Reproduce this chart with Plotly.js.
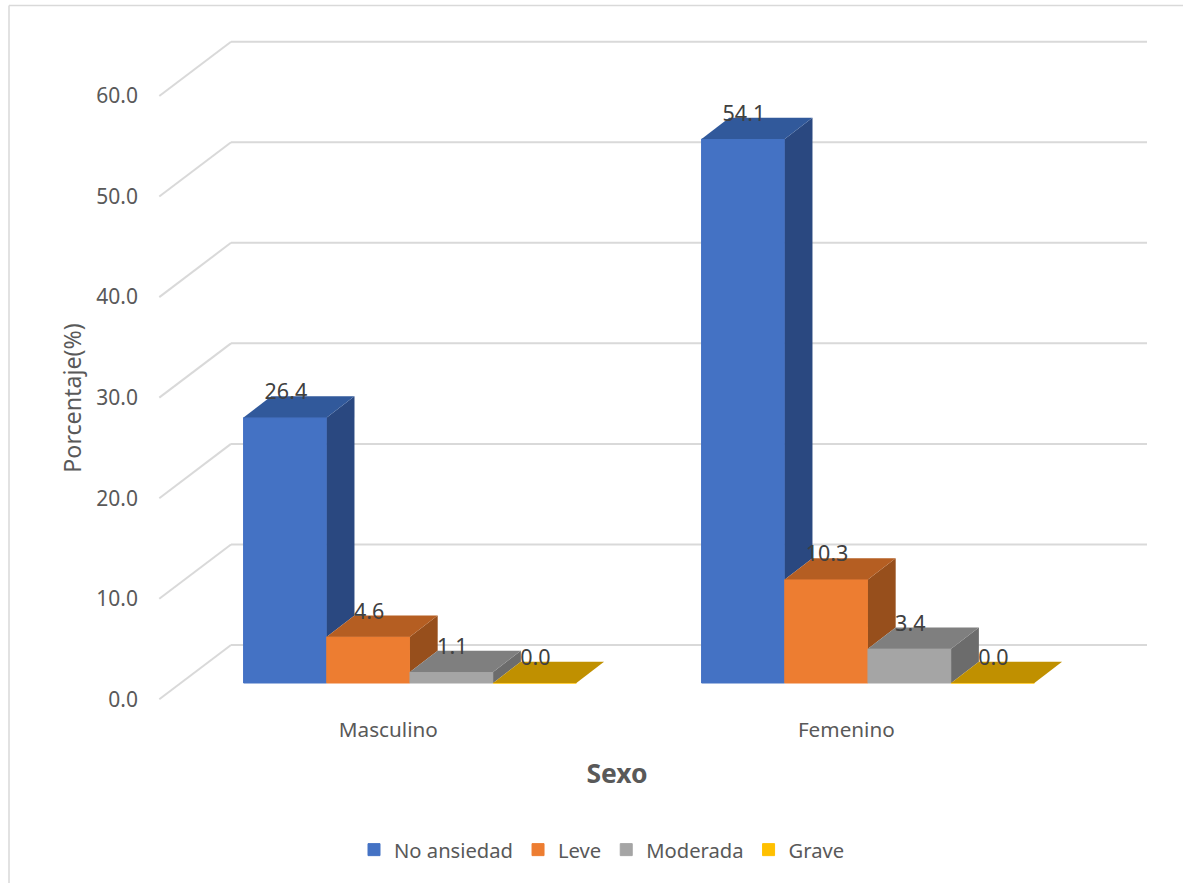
<!DOCTYPE html>
<html>
<head>
<meta charset="utf-8">
<script src="https://cdn.plot.ly/plotly-3.0.1.min.js"></script>
<style>html,body{margin:0;padding:0;background:#fff}#c{width:1183px;height:883px}</style>
</head>
<body>
<div id="c"></div>
<script>
// ---- data ----
var categories = ["Masculino", "Femenino"];
var seriesNames = ["No ansiedad", "Leve", "Moderada", "Grave"];
var noAnsiedad = [26.4, 54.1];
var leve = [4.6, 10.3];
var moderada = [1.1, 3.4];
var grave = [0.0, 0.0];
var yTicks = [0, 10, 20, 30, 40, 50, 60];

var frontColors = ["#4472c4", "#ed7d31", "#a5a5a5", "#ffc000"];
var topColors = ["#31599b", "#b55e22", "#7f7f7f", "#c09000"];
var sideColors = ["#2a4880", "#974f1c", "#6c6c6c", "#c09000"];

// ---- oblique projection, in axis units ----
var W = 1183, H = 883;
var M = {l: 87, r: 36, t: 30, b: 117};
var zeroPx = 699.3;                        // pixel row of the value 0 on the front plane
var unitX = 458, unitY = 10.055;           // px per category, px per percent
var wallDX = 71.7 / unitX, wallDY = 54.3 / unitY;   // floor depth
var barFloor = 16.3 / unitY;               // bar's front face base, in percent
var barDX = 27.7 / unitX, barDY = 21.3 / unitY;     // bar depth
var barW = 83.2 / unitX, groupLeft = -0.3160;
var textColor = "#595959", labelColor = "#404040", font = "'Noto Sans', sans-serif";

var allSeries = [noAnsiedad, leve, moderada, grave];
var catX = categories.map(function (c, i) { return i + 0.5; });
function left(s, c) { return catX[c] + groupLeft + s * barW; }

var traces = [];
// front faces: real bars
allSeries.forEach(function (vals, s) {
  traces.push({
    type: "bar", name: seriesNames[s],
    x: catX.map(function (_, c) { return left(s, c) + barW / 2; }),
    y: vals, base: vals.map(function () { return barFloor; }),
    width: barW, marker: {color: frontColors[s], line: {width: 1, color: frontColors[s]}},
    hoverinfo: "y+name"
  });
});
// side and top faces: filled outlines computed from the values
allSeries.forEach(function (vals, s) {
  vals.forEach(function (v, c) {
    var x0 = left(s, c), x1 = x0 + barW, top = barFloor + v;
    var next = s < allSeries.length - 1 ? allSeries[s + 1][c] : 0;
    if (v > 0) {
      var low = barFloor + next;
      traces.push({
        type: "scatter", mode: "lines", fill: "toself", showlegend: false, hoverinfo: "skip",
        x: [x1, x1 + barDX, x1 + barDX, x1, x1],
        y: [low, low + barDY, top + barDY, top, low],
        line: {width: 0, color: sideColors[s]}, fillcolor: sideColors[s]
      });
    }
    traces.push({
      type: "scatter", mode: "lines", fill: "toself", showlegend: false, hoverinfo: "skip",
      x: [x0, x1, x1 + barDX, x0 + barDX, x0],
      y: [top, top, top + barDY, top + barDY, top],
      line: {width: 0, color: topColors[s]}, fillcolor: topColors[s]
    });
  });
});
// value labels
allSeries.forEach(function (vals, s) {
  traces.push({
    type: "scatter", mode: "text", showlegend: false, hoverinfo: "skip",
    x: catX.map(function (_, c) { return left(s, c) + barW / 2 + 0.0015; }),
    y: vals.map(function (v) { return barFloor + v + 2.33; }),
    text: vals.map(function (v) { return v.toFixed(1); }),
    textposition: "middle center", cliponaxis: false,
    textfont: {family: font, size: 21.5, color: labelColor}
  });
});

// walls: gridlines from the tick list
var shapes = [];
yTicks.forEach(function (t) {
  var line = {color: "#d9d9d9", width: 2};
  shapes.push({type: "line", layer: "below", xref: "x", yref: "y", x0: 0, y0: t, x1: wallDX, y1: t + wallDY, line: line});
  shapes.push({type: "line", layer: "below", xref: "x", yref: "y", x0: wallDX, y0: t + wallDY, x1: 2 + wallDX, y1: t + wallDY, line: line});
});
// chart frame
var pw = W - M.l - M.r, ph = H - M.t - M.b;
function px(p) { return (p - M.l) / pw; }
function py(p) { return 1 - (p - M.t) / ph; }
var frame = {color: "#d9d9d9", width: 1.5};
shapes.push({type: "line", layer: "below", xref: "paper", yref: "paper", x0: px(9), y0: py(5.5), x1: px(W), y1: py(5.5), line: frame});
shapes.push({type: "line", layer: "below", xref: "paper", yref: "paper", x0: px(9), y0: py(5.5), x1: px(9), y1: py(H), line: frame});

var layout = {
  width: W, height: H, margin: M, autosize: false,
  paper_bgcolor: "#fff", plot_bgcolor: "rgba(0,0,0,0)",
  barmode: "overlay", shapes: shapes, showlegend: true,
  font: {family: font, color: textColor, size: 20},
  xaxis: {
    range: [-(159.3 - M.l) / unitX, (W - M.r - 159.3) / unitX],
    anchor: "free", position: py(zeroPx),
    tickvals: catX, ticktext: categories, ticks: "", showgrid: false, zeroline: false, showline: false,
    ticklabelstandoff: 16, tickfont: {family: font, size: 20.7, color: textColor},
    title: {text: "Sexo", standoff: 22, font: {family: font, size: 26.5, color: textColor, weight: 700}}
  },
  yaxis: {
    range: [(zeroPx - (H - M.b)) / unitY, (zeroPx - M.t) / unitY], anchor: "free", position: px(138),
    tickvals: yTicks, ticks: "", tickformat: ".1f", showgrid: false, zeroline: false, showline: false,
    tickfont: {family: font, size: 21, color: textColor},
    title: {text: "Porcentaje(%)", standoff: 7, font: {family: font, size: 23.2, color: textColor}}
  },
  legend: {
    orientation: "h", x: px(354), xanchor: "left", y: py(850), yanchor: "middle",
    font: {family: font, size: 20.2, color: textColor}, bgcolor: "rgba(0,0,0,0)", traceorder: "normal"
  }
};
Plotly.newPlot("c", traces, layout, {displayModeBar: false, staticPlot: true});
</script>
</body>
</html>
